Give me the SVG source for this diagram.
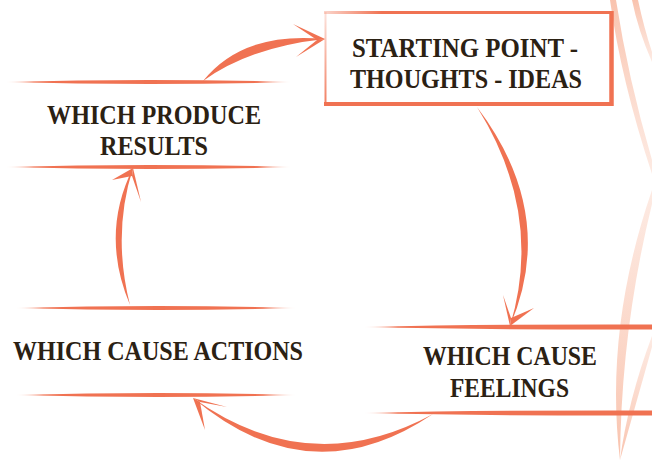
<svg xmlns="http://www.w3.org/2000/svg" width="652" height="462" viewBox="0 0 652 462">
  <defs>
    <style>
      .lbl { font-family: "Liberation Serif", "Times New Roman", serif; font-weight: bold; font-size: 27px; fill: #2B2113; }
      .coral { fill: #F07252; }
    </style>
    <linearGradient id="fadeL" x1="0" y1="0" x2="1" y2="0">
      <stop offset="0" stop-color="#F07252" stop-opacity="0"/>
      <stop offset="0.12" stop-color="#F07252" stop-opacity="1"/>
      <stop offset="1" stop-color="#F07252"/>
    </linearGradient>
    <linearGradient id="fadeBoth" x1="0" y1="0" x2="1" y2="0">
      <stop offset="0" stop-color="#F07252" stop-opacity="0"/>
      <stop offset="0.1" stop-color="#F07252" stop-opacity="1"/>
      <stop offset="0.88" stop-color="#F07252" stop-opacity="1"/>
      <stop offset="1" stop-color="#F07252" stop-opacity="0"/>
    </linearGradient>
    <linearGradient id="fadeTopBox" gradientUnits="userSpaceOnUse" x1="324" y1="0" x2="613" y2="0">
      <stop offset="0" stop-color="#F07252" stop-opacity="0.3"/>
      <stop offset="0.2" stop-color="#F07252" stop-opacity="1"/>
      <stop offset="1" stop-color="#F07252"/>
    </linearGradient>
    <linearGradient id="fadeLeftBox" gradientUnits="userSpaceOnUse" x1="0" y1="12" x2="0" y2="104">
      <stop offset="0" stop-color="#F07252" stop-opacity="0.2"/>
      <stop offset="1" stop-color="#F07252" stop-opacity="0.9"/>
    </linearGradient>
    <linearGradient id="decoV" x1="0" y1="0" x2="0" y2="1">
      <stop offset="0" stop-color="#FBD6C7" stop-opacity="0.5"/>
      <stop offset="1" stop-color="#F9C3AE" stop-opacity="1"/>
    </linearGradient>
    <linearGradient id="decoTop" x1="0" y1="0" x2="0" y2="1">
      <stop offset="0" stop-color="#F9C3AE" stop-opacity="1"/>
      <stop offset="1" stop-color="#FBD6C7" stop-opacity="0.5"/>
    </linearGradient>
  </defs>

  <!-- decorative swooshes at right edge -->
  <g id="decoration">
    <path d="M616,0 Q628,78 652,160 L652,174 Q621,80 610,0 Z" fill="url(#decoTop)"/>
    <path d="M638,0 Q644,28 652,52 L652,62 Q638,30 632,0 Z" fill="url(#decoTop)"/>
    <path d="M652,190 Q604,330 620,460 Q621,330 652,204 Z" fill="url(#decoV)"/>
    <path d="M652,336 Q628,400 620,460 Q637,400 652,347 Z" fill="url(#decoV)"/>
  </g>

  <!-- nodes -->
  <g id="node-start">
    <path d="M324,12.5 L613,12.5" stroke="url(#fadeTopBox)" stroke-width="3" fill="none"/>
    <path d="M611.5,11 L611.5,106" stroke="#F07252" stroke-width="4.5" fill="none"/>
    <path d="M324,104 L613,104" stroke="#F07252" stroke-width="4" fill="none"/>
    <path d="M325.5,12 L325.5,104" stroke="url(#fadeLeftBox)" stroke-width="2" fill="none"/>
    <text class="lbl" x="352" y="57" textLength="226" lengthAdjust="spacingAndGlyphs">STARTING POINT -</text>
    <text class="lbl" x="350" y="88" textLength="232" lengthAdjust="spacingAndGlyphs">THOUGHTS - IDEAS</text>
  </g>

  <g id="node-feelings">
    <path d="M363,327 Q500,324 652,324.5 L652,329.5 Q500,330 363,327 Z" fill="url(#fadeL)"/>
    <path d="M363,413 Q500,410 652,410.5 L652,415.5 Q500,416 363,413 Z" fill="url(#fadeL)"/>
    <text class="lbl" x="423" y="365" textLength="174" lengthAdjust="spacingAndGlyphs">WHICH CAUSE</text>
    <text class="lbl" x="450" y="397" textLength="119" lengthAdjust="spacingAndGlyphs">FEELINGS</text>
  </g>

  <g id="node-actions">
    <path d="M15,308 Q160,304 297,308 Q160,312 15,308 Z" fill="url(#fadeBoth)"/>
    <path d="M15,395 Q160,391 297,395 Q160,399 15,395 Z" fill="url(#fadeBoth)"/>
    <text class="lbl" x="13" y="360" textLength="290" lengthAdjust="spacingAndGlyphs">WHICH CAUSE ACTIONS</text>
  </g>

  <g id="node-results">
    <path d="M5,82 Q150,78 292,82 Q150,86 5,82 Z" fill="url(#fadeBoth)"/>
    <path d="M5,167 Q150,163 292,167 Q150,171 5,167 Z" fill="url(#fadeBoth)"/>
    <text class="lbl" x="47" y="124" textLength="214" lengthAdjust="spacingAndGlyphs">WHICH PRODUCE</text>
    <text class="lbl" x="100" y="155" textLength="108" lengthAdjust="spacingAndGlyphs">RESULTS</text>
  </g>

  <!-- connectors -->
  <g id="connectors" class="coral">
    <!-- results -> start -->
    <path d="M203,81 Q243,31 325,39 Q250,47 203,81 Z"/>
    <polygon points="325,39 293,24 317,40"/>
    <polygon points="325,39 296,57 317,40"/>
    <!-- start -> feelings -->
    <path d="M477,107 Q558,214 510,326 Q544,214 477,107 Z"/>
    <polygon points="510,326 503,295 511,318"/>
    <polygon points="510,326 534,308 511,318"/>
    <!-- feelings -> actions -->
    <path d="M433,414 Q310,497 193,398 Q310,481 433,414 Z"/>
    <polygon points="193,398 227,407 200,402"/>
    <polygon points="193,398 205,430 200,402"/>
    <!-- actions -> results -->
    <path d="M130,305 Q100,234 133,168 Q112,234 130,305 Z"/>
    <polygon points="133,168 112,180 132,176"/>
    <polygon points="133,168 141,202 132,176"/>
  </g>
</svg>
